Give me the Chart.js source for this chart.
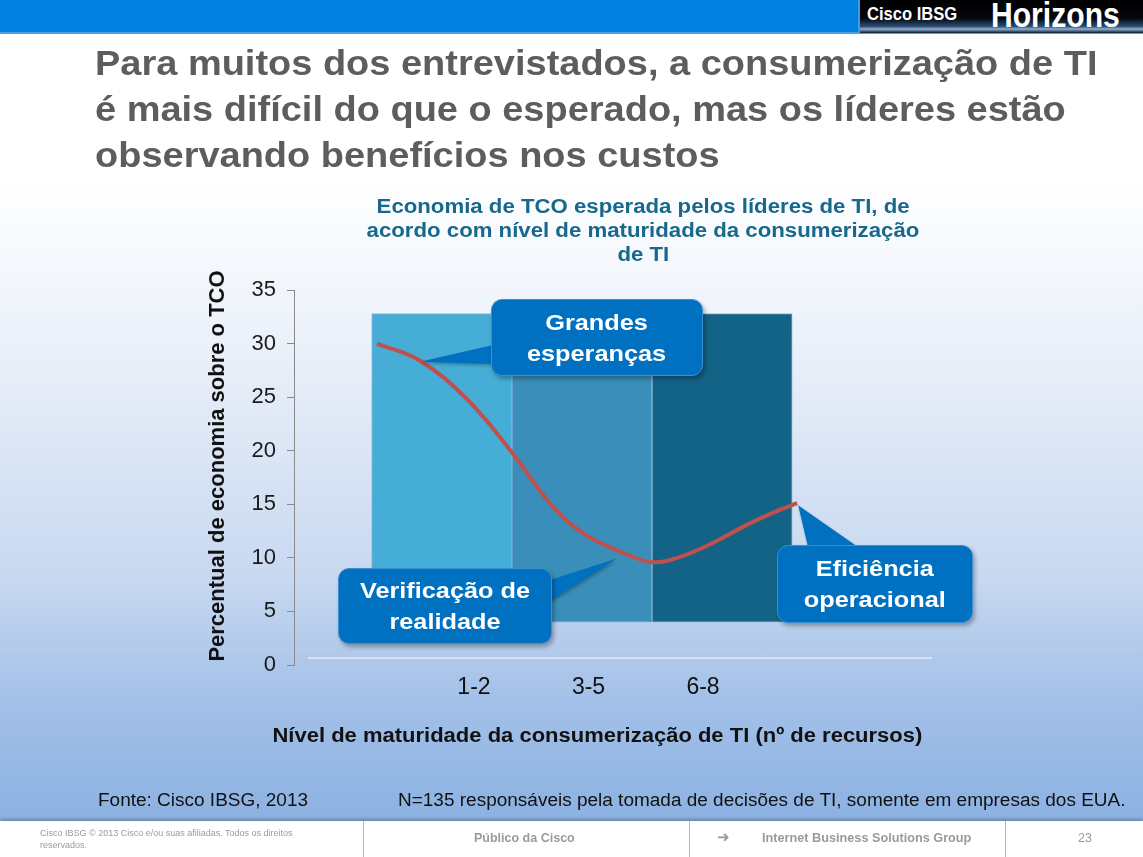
<!DOCTYPE html>
<html>
<head>
<meta charset="utf-8">
<script src="https://cdn.jsdelivr.net/npm/chart.js@4.4.0/dist/chart.umd.min.js"></script>
<style>
  html, body { margin: 0; padding: 0; }
  body {
    width: 1143px; height: 857px; position: relative; overflow: hidden;
    font-family: 'Liberation Sans', Arial, sans-serif;
    background: linear-gradient(to bottom, #ffffff 0px, #ffffff 180px, #e9eff9 360px, #c7d8f0 580px, #a3c0e8 700px, #8cb2e2 820px);
  }
  .abs { position: absolute; }
  .wide { display: inline-block; transform-origin: left top; white-space: nowrap; }
  .widec { display: inline-block; transform-origin: center top; white-space: nowrap; }
  #topbar { left: 0; top: 0; width: 1143px; height: 32px; background: #0080e0; border-bottom: 2px solid #4aa3ea; }
  #logo { left: 858px; top: 0; width: 285px; height: 33px; overflow: hidden;
    background: linear-gradient(to bottom, #000 0%, #03060c 55%, #2d4d75 80%, #8fb0d0 88%, #0d1a2c 100%);
    border-left: 2px solid #3d9be6; color: #fff; font-weight: bold; white-space: nowrap; }
  #logo .a { position: absolute; left: 7px; top: 4px; font-size: 18px; transform: scaleX(0.92); transform-origin: left top; }
  #logo .b { position: absolute; left: 131px; top: -5px; font-size: 35px; transform: scaleX(0.86); transform-origin: left top; }
  #title { left: 95px; top: 40px; font-size: 35px; font-weight: bold; line-height: 46px; color: #5d5d5d; z-index: 2; }
  #title .wide { transform: scaleX(1.085); }
  #ctitle { left: 293px; top: 194px; width: 700px; text-align: center; font-size: 20px; font-weight: bold; line-height: 24px; color: #17688c; z-index: 2; }
  #ctitle .widec { transform: scaleX(1.11); }
  #ytitle { left: 17px; top: 453px; width: 400px; height: 26px; line-height: 26px; text-align: center; font-size: 22px; font-weight: bold; color: #111; transform: rotate(-90deg); transform-origin: center center; white-space: nowrap; z-index: 2; }
  #xtitle { left: 197px; top: 723px; width: 800px; text-align: center; font-size: 20px; font-weight: bold; line-height: 24px; color: #111; z-index: 2; }
  #xtitle .widec { transform: scaleX(1.10); }
  .note { top: 789px; font-size: 18px; line-height: 22px; color: #111; z-index: 2; white-space: nowrap; }
  .note .wide { transform: scaleX(1.055); }
  #chartwrap { left: 0; top: 0; width: 1143px; height: 857px; z-index: 1; }
  .callout { z-index: 3; background: #0070c0; border: 1px solid #3b8fd2; border-radius: 11px;
    box-shadow: 2px 3px 4px rgba(0,0,0,0.3); color: #fff; font-weight: bold; font-size: 22px; line-height: 31px;
    display: flex; align-items: center; justify-content: center; text-align: center; box-sizing: border-box; }
  .callout .widec { transform: scaleX(1.15); transform-origin: center center; }
  #footer { left: 0; top: 821px; width: 1143px; height: 36px; background: #fff; box-shadow: 0 -2px 3px rgba(0,0,0,0.25); z-index: 2; }
  #footer .sep { position: absolute; top: 0; width: 1px; height: 36px; background: #b5b5b5; }
  #footer .t { position: absolute; color: #9a9a9a; white-space: nowrap; }
</style>
</head>
<body>
<div id="topbar" class="abs"></div>
<div id="logo" class="abs"><span class="a">Cisco IBSG</span><span class="b">Horizons</span></div>

<div id="title" class="abs"><span class="wide">Para muitos dos entrevistados, a consumerização de TI</span><br><span class="wide">é mais difícil do que o esperado, mas os líderes estão</span><br><span class="wide">observando benefícios nos custos</span></div>
<div id="ctitle" class="abs"><span class="widec">Economia de TCO esperada pelos líderes de TI, de</span><br><span class="widec">acordo com nível de maturidade da consumerização</span><br><span class="widec">de TI</span></div>

<div id="chartwrap" class="abs"><canvas id="chart" width="1143" height="857"></canvas></div>

<div id="ytitle" class="abs">Percentual de economia sobre o TCO</div>

<div class="abs callout" style="left:491px; top:299px; width:212px; height:77px;"><span class="widec">Grandes<br>esperanças</span></div>
<div class="abs callout" style="left:338px; top:568px; width:214px; height:76px;"><span class="widec">Verificação de<br>realidade</span></div>
<div class="abs callout" style="left:777px; top:545px; width:196px; height:78px;"><span class="widec">Eficiência<br>operacional</span></div>

<div id="xtitle" class="abs"><span class="widec">Nível de maturidade da consumerização de TI (nº de recursos)</span></div>
<div class="abs note" style="left:98px;"><span class="wide">Fonte: Cisco IBSG, 2013</span></div>
<div class="abs note" style="left:398px;"><span class="wide">N=135 responsáveis pela tomada de decisões de TI, somente em empresas dos EUA.</span></div>

<div id="footer" class="abs">
  <div class="t" style="left:40px; top:6px; font-size:9px; line-height:12px;">Cisco IBSG © 2013 Cisco e/ou suas afiliadas. Todos os direitos<br>reservados.</div>
  <div class="sep" style="left:363px;"></div>
  <div class="t" style="left:474px; top:10px; font-size:12.5px; font-weight:bold;">Público da Cisco</div>
  <div class="sep" style="left:689px;"></div>
  <div class="t" style="left:717px; top:7px; font-size:15px;">➜</div>
  <div class="t" style="left:762px; top:10px; font-size:12.7px; font-weight:bold;">Internet Business Solutions Group</div>
  <div class="sep" style="left:1005px;"></div>
  <div class="t" style="left:1078px; top:10px; font-size:12.5px;">23</div>
</div>

<script>
// maturity levels (x tick labels)
const maturityLevels = ['1-2', '3-5', '6-8'];
// floating bars: position along the hidden axis, low and high values
const barPositions = [1, 2, 3];
const barLow = [4, 4, 4];
const barHigh = [32.8, 32.8, 32.8];
// red curve
const curveX = [0.538, 0.845, 1.18, 1.486, 1.772, 2.007, 2.271, 2.50, 2.70, 2.935, 3.18, 3.415, 3.535];
const curveY = [30.0, 28.4, 24.8, 20.1, 15.1, 12.3, 10.6, 9.6, 10.1, 11.4, 13.1, 14.5, 15.1];
// y ticks
const yTicks = [0, 5, 10, 15, 20, 25, 30, 35];

const barColors = ['#46aed6', '#3a8fba', '#136387'];
const calloutBlue = '#0070c0';

// pointer triangles of the callouts + the light baseline
const decorations = {
  id: 'decorations',
  beforeDatasetsDraw(chart) {
    const { ctx, chartArea } = chart;
    ctx.save();
    ctx.strokeStyle = 'rgba(236,241,250,0.85)';
    ctx.lineWidth = 1.5;
    ctx.beginPath();
    ctx.moveTo(chartArea.left + 14, chartArea.bottom - 7);
    ctx.lineTo(chartArea.right, chartArea.bottom - 7);
    ctx.stroke();
    ctx.restore();
  },
  afterDatasetsDraw(chart) {
    const { ctx } = chart;
    const x = chart.scales.x, y = chart.scales.y;
    const pt = (i, dx, dy) => [x.getPixelForValue(curveX[i]) + dx, y.getPixelForValue(curveY[i]) + dy];
    const tris = [
      [pt(1, 0, 1), [493, 345], [493, 364]],
      [pt(6, -3, 7), [550, 580], [550, 601]],
      [pt(curveX.length - 1, 1, 2), [808, 547], [858, 547]]
    ];
    ctx.save();
    ctx.fillStyle = calloutBlue;
    ctx.shadowColor = 'rgba(0,0,0,0.25)';
    ctx.shadowBlur = 3;
    ctx.shadowOffsetX = 1;
    ctx.shadowOffsetY = 2;
    tris.forEach(t => {
      ctx.beginPath();
      ctx.moveTo(t[0][0], t[0][1]);
      ctx.lineTo(t[1][0], t[1][1]);
      ctx.lineTo(t[2][0], t[2][1]);
      ctx.closePath();
      ctx.fill();
    });
    ctx.restore();
  }
};

const ctx = document.getElementById('chart').getContext('2d');
new Chart(ctx, {
  type: 'bar',
  data: {
    datasets: [
      {
        type: 'line',
        label: 'Economia de TCO',
        data: curveX.map((v, i) => ({ x: v, y: curveY[i] })),
        xAxisID: 'x',
        borderColor: '#c0504d',
        borderWidth: 4,
        pointRadius: 0,
        tension: 0.4,
        fill: false,
        order: 0
      },
      {
        type: 'bar',
        label: 'Nível',
        data: barPositions.map((v, i) => ({ x: v, y: [barLow[i], barHigh[i]] })),
        xAxisID: 'x',
        backgroundColor: barColors,
        borderColor: 'rgba(110,160,205,0.7)',
        borderWidth: 1,
        borderSkipped: false,
        barPercentage: 1,
        categoryPercentage: 1,
        order: 1
      }
    ]
  },
  options: {
    responsive: false,
    animation: false,
    layout: { padding: { left: 204, right: 211, top: 290, bottom: 152 } },
    plugins: { legend: { display: false }, tooltip: { enabled: false } },
    scales: {
      x: {
        type: 'linear',
        display: false,
        offset: false,
        min: -0.054,
        max: 4.497,
        afterBuildTicks: (s) => { s.ticks = barPositions.map(v => ({ value: v })); }
      },
      xl: {
        type: 'linear',
        position: 'bottom',
        offset: false,
        min: -0.572,
        max: 5.0,
        afterBuildTicks: (s) => { s.ticks = maturityLevels.map((l, i) => ({ value: i + 1 })); },
        afterFit: (s) => { s.height = 40; },
        grid: { display: false, drawTicks: false },
        border: { display: false },
        ticks: {
          autoSkip: false, maxRotation: 0, padding: 9, color: '#111',
          font: { size: 23, family: "'Liberation Sans', Arial" },
          callback: (v) => maturityLevels[v - 1]
        }
      },
      y: {
        min: 0,
        max: 35,
        afterBuildTicks: (s) => { s.ticks = yTicks.map(v => ({ value: v })); },
        afterFit: (s) => { s.width = 90; },
        grid: { drawOnChartArea: false, drawTicks: true, tickLength: 7, color: '#8a8a8a' },
        border: { display: true, color: '#8a8a8a' },
        ticks: { padding: 11, color: '#1a1a1a', font: { size: 22, family: "'Liberation Sans', Arial" } },
        title: { display: false }
      }
    }
  },
  plugins: [decorations]
});
</script>
</body>
</html>
